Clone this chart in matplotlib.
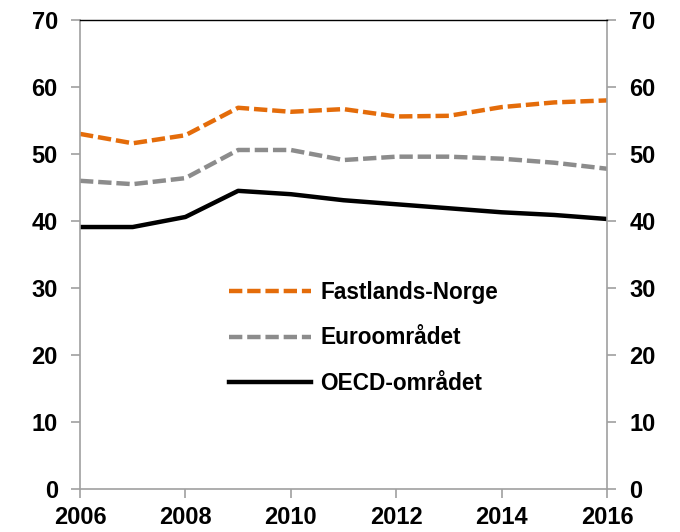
import matplotlib
matplotlib.use("Agg")
import matplotlib.pyplot as plt

years = [2006, 2007, 2008, 2009, 2010, 2011, 2012, 2013, 2014, 2015, 2016]
fastlands = [53.0, 51.6, 52.8, 56.9, 56.3, 56.7, 55.6, 55.7, 57.0, 57.7, 58.0]
euro = [46.0, 45.5, 46.4, 50.6, 50.6, 49.1, 49.6, 49.6, 49.3, 48.7, 47.8]
oecd = [39.1, 39.1, 40.6, 44.5, 44.0, 43.1, 42.5, 41.9, 41.3, 40.9, 40.3]
labels = ["Fastlands-Norge", "Euroområdet", "OECD-området"]
xticks = [2006, 2008, 2010, 2012, 2014, 2016]
yticks = [0, 10, 20, 30, 40, 50, 60, 70]

plt.rcParams['font.family'] = ['Liberation Sans', 'DejaVu Sans']
plt.rcParams['font.weight'] = 'bold'

fig = plt.figure(figsize=(6.8, 5.32), dpi=100)
ax = fig.add_axes([80/680, 43/532, 527/680, 469/532])

orange = '#E46C0A'
gray = '#8C8C8C'
ax.plot(years, fastlands, color=orange, lw=3.2, dashes=(3.0, 1.1), label=labels[0])
ax.plot(years, euro, color=gray, lw=3.2, dashes=(3.0, 1.1), label=labels[1])
ax.plot(years, oecd, color='black', lw=3.2, label=labels[2])

fs = 17
ax.set_xlim(2006, 2016)
ax.set_ylim(0, 70)
ax.set_xticks(xticks)
ax.set_yticks(yticks)
ax.tick_params(axis='both', labelsize=fs, colors='#A0A0A0', labelcolor='black', width=1.2)
ax.tick_params(axis='y', which='both', left=True, right=True, labelleft=True, labelright=True,
               direction='out', length=6.5, pad=9.5)
ax.tick_params(axis='x', direction='out', length=6.5, pad=6)
for side in ['left', 'right', 'bottom']:
    ax.spines[side].set_color('#A0A0A0')
    ax.spines[side].set_linewidth(1.2)
ax.spines['top'].set_color('black')
ax.spines['top'].set_linewidth(1)

leg = ax.legend(loc='upper left', bbox_to_anchor=(0.262, 0.468), frameon=False, borderpad=0,
                fontsize=16.3, handlelength=3.6, handletextpad=0.42, labelspacing=1.0)

fig.savefig('out.png', dpi=100)
